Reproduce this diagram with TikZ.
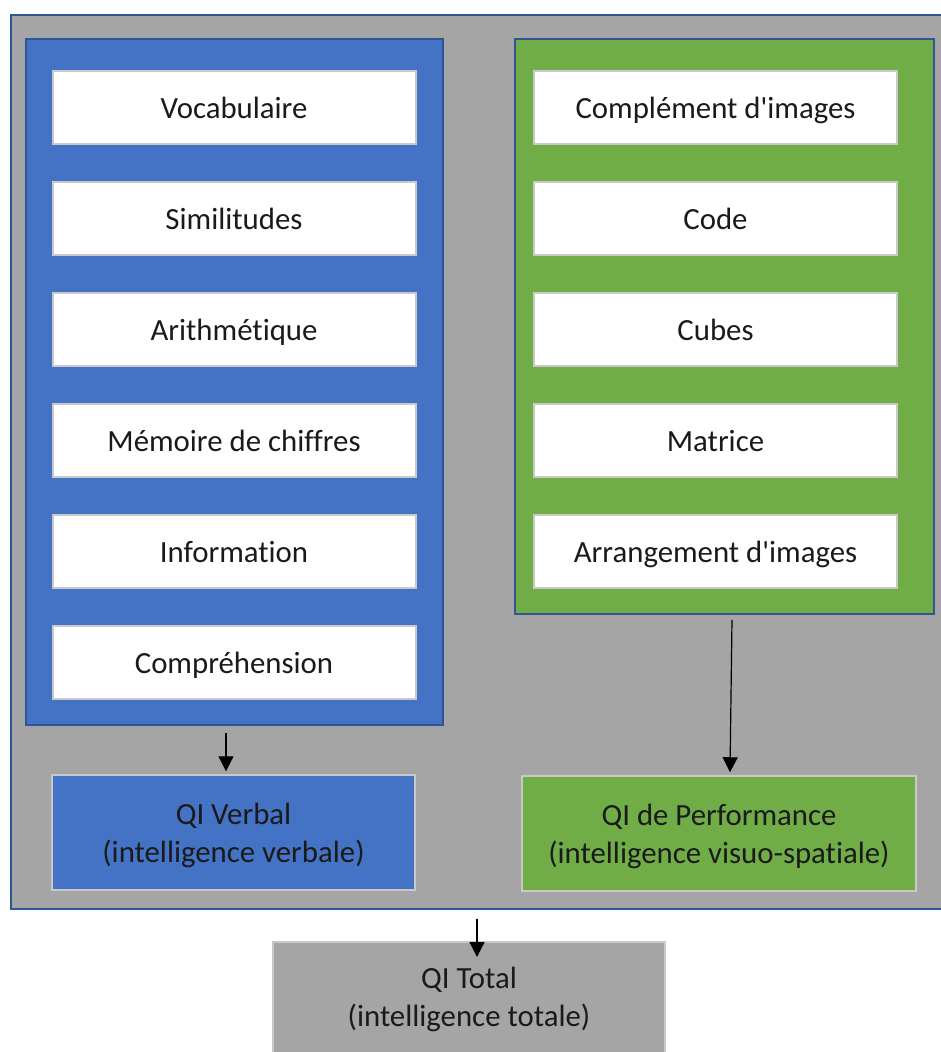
\documentclass[tikz,border=0pt]{standalone}
\usepackage{fontspec}
\newfontfamily\cfont{Carlito}[Ligatures=NoCommon]
\usetikzlibrary{arrows.meta}
\definecolor{vblue}{HTML}{4472C4}
\definecolor{pgreen}{HTML}{70AD47}
\definecolor{qgray}{HTML}{A5A5A5}
\definecolor{edgeblue}{HTML}{2F5597}
\definecolor{boxedge}{HTML}{C9C9C9}
\definecolor{txt}{HTML}{1A1A1A}
\begin{document}
\begin{tikzpicture}[x=1pt,y=-1pt,
  panel/.style={draw=edgeblue, line width=1.5pt, inner sep=0pt},
  item/.style={draw=boxedge, line width=2pt, fill=white, minimum width=363pt, minimum height=73pt, inner sep=0pt, text height=23pt, text depth=1pt, text=txt, font=\cfont\fontsize{30.8}{37}\selectfont},
  result/.style={draw=boxedge, line width=1.5pt, inner sep=0pt, minimum height=115pt},
  restext/.style={text=txt, align=center, inner sep=0pt, font=\cfont\fontsize{30.8}{38}\selectfont},
  arr/.style={draw=black, line width=1.2pt, -{Triangle[width=15pt,length=15pt]}}]
\useasboundingbox (0,0) rectangle (941,1052);
\clip (0,0) rectangle (941,1052);
% outer gray container
\node[panel, fill=qgray, line width=2pt, minimum width=960pt, minimum height=894pt, anchor=north west] (outer) at (10,14) {};
% panels
\node[panel, fill=vblue, minimum width=417pt, minimum height=686pt] (vpanel) at (234.5,382) {};
\node[panel, fill=pgreen, minimum width=419pt, minimum height=575pt] (ppanel) at (724.5,326.5) {};
% verbal items
\node[item] (voc) at (234,107.5) {Vocabulaire};
\node[item] (sim) at (234,218.5) {Similitudes};
\node[item] (ari) at (234,329.5) {Arithmétique};
\node[item] (mem) at (234,440.5) {Mémoire de chiffres};
\node[item] (inf) at (234,551.5) {Information};
\node[item] (com) at (234,662.5) {Compréhension};
% performance items
\node[item] (cim) at (715.5,107.5) {Complément d'images};
\node[item] (cod) at (715.5,218.5) {Code};
\node[item] (cub) at (715.5,329.5) {Cubes};
\node[item] (mat) at (715.5,440.5) {Matrice};
\node[item] (arr) at (715.5,551.5) {Arrangement d'images};
% results
\node[result, fill=vblue, minimum width=363pt] (verbal) at (233.5,832.5) {};
\node[restext] (verbaltext) at ([yshift=-3pt]verbal.center) {QI Verbal\\(intelligence verbale)};
\node[result, fill=pgreen, minimum width=394pt] (perf) at (719,833.5) {};
\node[restext] (perftext) at ([yshift=-3pt]perf.center) {QI de Performance\\(intelligence visuo-spatiale)};
\node[result, fill=qgray, minimum width=392pt, minimum height=150pt, anchor=north] (total) at (469,941) {};
\node[restext, anchor=north] (totaltext) at ([yshift=-26pt]total.north) {QI Total\\(intelligence totale)};
\coordinate (tx) at ([xshift=8pt]total.north);
% arrows
\draw[arr] ([xshift=-8.5pt,yshift=-7pt]vpanel.south) -- ([xshift=-7.5pt,yshift=3pt]verbal.north);
\draw[arr] ([xshift=7.5pt,yshift=-5pt]ppanel.south) -- ([xshift=11pt,yshift=3pt]perf.north);
\draw[arr] ([yshift=-9pt]outer.south -| tx) -- ([yshift=-16pt]total.north -| tx);
\end{tikzpicture}
\end{document}
